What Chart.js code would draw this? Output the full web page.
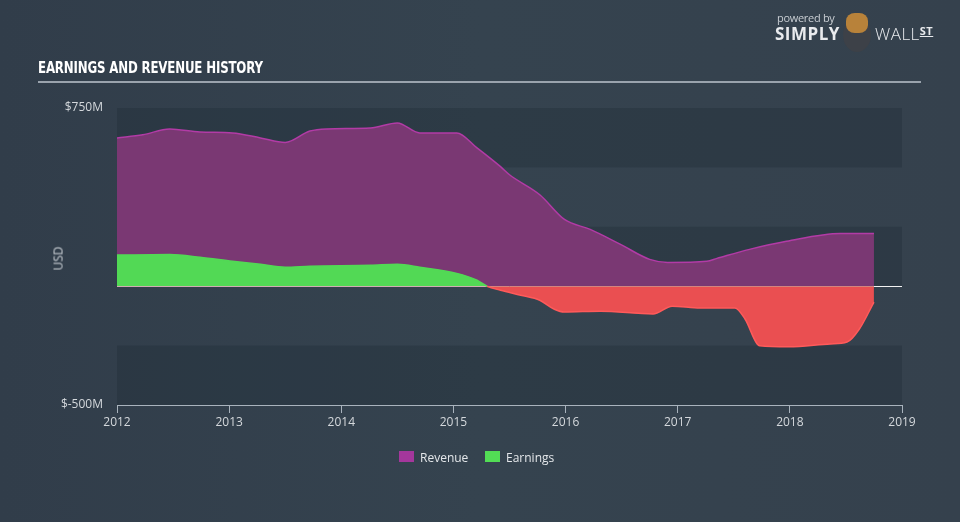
<!DOCTYPE html>
<html>
<head>
<meta charset="utf-8">
<script src="https://cdn.jsdelivr.net/npm/chart.js@4.4.0/dist/chart.umd.min.js"></script>
<style>
  html,body{margin:0;padding:0;}
  body{width:960px;height:522px;overflow:hidden;position:relative;
    background:linear-gradient(90deg,#313d4a 0%,#35434f 50%,#35414d 100%);
    font-family:"Open Sans","Lato",sans-serif;}
  #wrap{position:absolute;left:0;top:0;width:960px;height:522px;}
  #title{position:absolute;left:38px;top:58px;color:#ffffff;font-family:"Liberation Sans Narrow","DejaVu Sans Condensed",sans-serif;
    font-weight:bold;font-size:16px;letter-spacing:-0.2px;transform:scaleX(0.82);transform-origin:left;}
  #rule{position:absolute;left:38px;top:81px;width:883px;height:2px;background:#9aa3ad;}
  #usd{position:absolute;left:46px;top:250px;color:#c9ced4;font-size:12px;transform:rotate(-90deg);transform-origin:center;}
  #legend{position:absolute;top:449px;left:399px;font-size:12px;color:#e4e7ea;}
  .sw{position:absolute;width:15px;height:11px;top:2px;}
  .lt{position:absolute;top:0;white-space:nowrap;}
  #logo{position:absolute;left:775px;top:10px;color:#fff;}
</style>
</head>
<body>
<div id="wrap"><canvas id="c" width="960" height="522"></canvas></div>
<div id="title">EARNINGS AND REVENUE HISTORY</div>
<div id="rule"></div>
<div id="usd">USD</div>
<div id="legend">
  <div class="sw" style="left:0;background:#a4379c;"></div><div class="lt" style="left:21px;">Revenue</div>
  <div class="sw" style="left:86px;background:#52dd55;"></div><div class="lt" style="left:107px;">Earnings</div>
</div>
<div id="logo">
  <div style="position:absolute;left:2px;top:0;font-size:11px;color:#c8cdd2;white-space:nowrap;letter-spacing:-0.3px;">powered by</div>
  <div style="position:absolute;left:0;top:12px;font-size:17px;font-weight:bold;color:#e9ebee;letter-spacing:0.5px;white-space:nowrap;">SIMPLY</div>
  <div style="position:absolute;left:68px;top:8px;width:28px;height:34px;border-radius:50%;background:#3d4148;"></div>
  <div style="position:absolute;left:71px;top:3px;width:22px;height:20px;border-radius:40%;background:#b8823a;"></div>
  <div style="position:absolute;left:100px;top:12px;font-size:17px;font-weight:300;color:#e9ebee;letter-spacing:0.5px;white-space:nowrap;">WALL<span style="font-size:11px;text-decoration:underline;vertical-align:5px;font-weight:bold;">ST</span></div>
</div>
<script>
const revenueYears = [2012.0,2012.23,2012.47,2012.74,2013.03,2013.28,2013.50,2013.72,2013.87,2014.26,2014.50,2014.70,2015.03,2015.21,2015.42,2015.50,2015.77,2015.99,2016.22,2016.49,2016.75,2016.91,2017.26,2017.35,2017.64,2017.97,2018.45,2018.75];
const revenueValues = [624,637,662,649,645,624,605,653,662,666,687,645,645,582,503,469,385,281,239,176,113,100,105,117,155,189,222,222];
const earningsYears = [2012.0,2012.47,2012.74,2013.03,2013.28,2013.50,2013.72,2014.26,2014.50,2014.70,2015.03,2015.21,2015.30,2015.42,2015.60,2015.77,2015.90,2015.99,2016.31,2016.78,2016.95,2017.20,2017.51,2017.60,2017.73,2017.99,2018.36,2018.51,2018.62,2018.75];
const earningsValues = [131,133,122,105,92,80,84,88,92,80,54,25,0,-17,-38,-59,-97,-109,-105,-117,-84,-92,-92,-138,-251,-255,-243,-235,-180,-67];
const yTickLabels = {"750":"$750M","-500":"$-500M"};
const xTickYears = [2012,2013,2014,2015,2016,2017,2018,2019];

const revenueData = revenueYears.map((x,i)=>({x, y: revenueValues[i]}));
const earningsData = earningsYears.map((x,i)=>({x, y: earningsValues[i]}));

const bandPlugin = {
  id:'bands',
  beforeDatasetsDraw(chart){
    const {ctx, chartArea:a, scales:{y}} = chart;
    const bands = [[500,750,'rgba(20,30,40,0.22)'],[0,250,'rgba(20,30,40,0.22)'],[-500,-250,'rgba(20,30,40,0.22)']];
    ctx.save();
    bands.forEach(([lo,hi,c])=>{
      const t = y.getPixelForValue(hi), b = y.getPixelForValue(lo);
      ctx.fillStyle = c; ctx.fillRect(a.left, t, a.right-a.left, b-t);
    });
    const z = Math.round(y.getPixelForValue(0))+0.5;
    ctx.strokeStyle = '#f2f2f2'; ctx.lineWidth = 1;
    ctx.beginPath(); ctx.moveTo(a.left, z); ctx.lineTo(a.right, z); ctx.stroke();
    ctx.restore();
  }
};

const green = '#52d955', red = '#ea4f51';
new Chart(document.getElementById('c'), {
  type:'line',
  data:{datasets:[
    {label:'Revenue', data:revenueData, order:2, borderColor:'#b23ba6', borderWidth:1.5,
     backgroundColor:'#7a3873', fill:'origin', pointRadius:0, cubicInterpolationMode:'monotone'},
    {label:'Earnings', data:earningsData, order:1, borderWidth:1.5,
     borderColor:green, fill:{target:'origin', above:green, below:red}, pointRadius:0,
     cubicInterpolationMode:'monotone',
     segment:{borderColor: ctx => (ctx.p0.parsed.y < 0 || ctx.p1.parsed.y < 0) ? '#ff5a5a' : green}}
  ]},
  options:{
    responsive:false, animation:false,
    layout:{padding:{left:0, top:108, right:58, bottom:77}},
    plugins:{legend:{display:false}, tooltip:{enabled:false}},
    scales:{
      x:{type:'linear', min:2012, max:2019,
        afterBuildTicks(s){ s.ticks = xTickYears.map(v=>({value:v})); },
        afterFit(s){ s.height = 40; },
        ticks:{color:'#d4d8dc', font:{family:'"Open Sans"', size:12}, padding:2, callback:v=>String(v), maxRotation:0},
        grid:{display:true, drawOnChartArea:false, drawTicks:true, tickLength:8, color:'#a9b3bd'},
        border:{display:true, color:'#a9b3bd', width:1}
      },
      y:{min:-500, max:750,
        afterBuildTicks(s){ s.ticks = [{value:-500},{value:750}]; },
        afterFit(s){ s.width = 117; },
        ticks:{color:'#d4d8dc', font:{family:'"Open Sans"', size:12}, padding:14, callback:v=>yTickLabels[String(v)] || ''},
        grid:{display:false, drawTicks:false},
        border:{display:false}
      }
    }
  },
  plugins:[bandPlugin]
});
</script>
</body>
</html>
